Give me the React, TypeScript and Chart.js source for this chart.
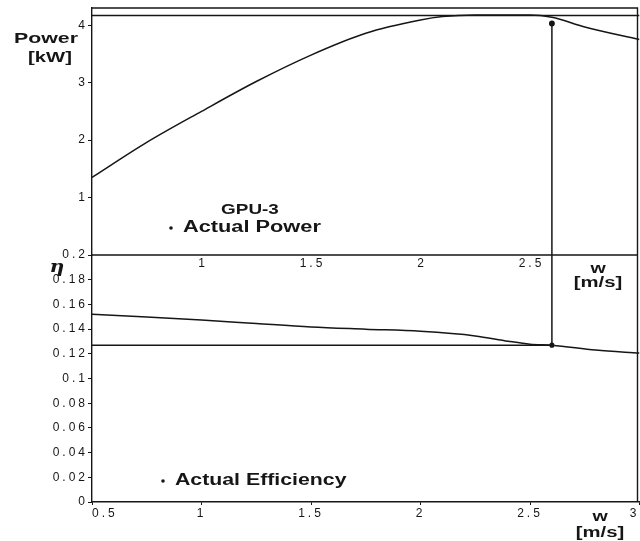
import React, { useEffect, useRef } from "react";
import { Chart, registerables } from "chart.js";

Chart.register(...registerables);

// ---- data ----
const speedW = [0.5, 0.75, 1, 1.25, 1.5, 1.75, 2, 2.1, 2.25, 2.5, 2.6, 2.75, 3];
const powerKW = [1.35, 1.96, 2.5, 3.02, 3.48, 3.86, 4.09, 4.15, 4.18, 4.18, 4.14, 3.97, 3.75];
const effW = [0.5, 0.75, 1, 1.25, 1.5, 1.75, 2, 2.25, 2.4, 2.5, 2.6, 2.8, 3];
const efficiency = [0.152, 0.1497, 0.1474, 0.1445, 0.1417, 0.1399, 0.1382, 0.1345, 0.1302, 0.1278, 0.127, 0.123, 0.1206];
const maxPowerKW = 4.17;
const actualW = 2.6;
const actualPowerKW = 4.03;
const actualEff = 0.127;
const xTicks = [0.5, 1, 1.5, 2, 2.5, 3];
const midXTicks = [1, 1.5, 2, 2.5];
const powerTicks = [1, 2, 3, 4];
const effTicks = [0, 0.02, 0.04, 0.06, 0.08, 0.1, 0.12, 0.14, 0.16, 0.18, 0.2];

const INK = "#161616";
const FONT = "'Liberation Sans', Arial, sans-serif";

function stretchText(
  ctx: CanvasRenderingContext2D,
  text: string,
  x: number,
  y: number,
  size: number,
  sx: number,
  align: CanvasTextAlign = "center",
  font = FONT,
  style = "bold"
) {
  ctx.save();
  ctx.font = `${style} ${size}px ${font}`;
  ctx.fillStyle = INK;
  ctx.textAlign = align;
  ctx.textBaseline = "middle";
  ctx.translate(x, y);
  ctx.scale(sx, 1);
  ctx.fillText(text, 0, 0);
  ctx.restore();
}

const annotPlugin = {
  id: "annot",
  beforeDraw(chart: any) {
    (chart.ctx as any).letterSpacing = "3px";
  },
  afterDraw(chart: any) {
    const { ctx, chartArea, scales } = chart;
    const x = scales.x;
    const yE = scales.yE;
    ctx.save();
    (ctx as any).letterSpacing = "0px";
    ctx.strokeStyle = INK;
    ctx.lineWidth = 1.4;
    const right = Math.min(chartArea.right, 637.5);
    ctx.beginPath();
    ctx.moveTo(chartArea.left, chartArea.top);
    ctx.lineTo(right, chartArea.top);
    ctx.lineTo(right, chartArea.bottom);
    ctx.moveTo(chartArea.left, yE.top);
    ctx.lineTo(right, yE.top);
    ctx.stroke();

    // mid x tick labels (top panel's axis)
    ctx.font = `12px ${FONT}`;
    (ctx as any).letterSpacing = "3px";
    ctx.fillStyle = INK;
    ctx.textAlign = "center";
    ctx.textBaseline = "middle";
    midXTicks.forEach((v) => {
      ctx.fillText(String(v), x.getPixelForValue(v) + 1.5, yE.top + 9);
    });
    (ctx as any).letterSpacing = "0px";

    // axis titles
    stretchText(ctx, "Power", 46, 39, 15, 1.42);
    stretchText(ctx, "[kW]", 50, 58, 15, 1.35);
    stretchText(ctx, "η", 57, yE.top + 13, 17, 1.2, "center", "'DejaVu Serif', serif", "italic bold");
    stretchText(ctx, "w", 598, yE.top + 14, 14, 1.4);
    stretchText(ctx, "[m/s]", 598, yE.top + 28, 14, 1.45);
    stretchText(ctx, "w", 600, chartArea.bottom + 15, 14, 1.4);
    stretchText(ctx, "[m/s]", 600, chartArea.bottom + 31, 14, 1.45);

    // legend-like labels
    stretchText(ctx, "GPU-3", 250, 210, 14, 1.35);
    stretchText(ctx, "Actual Power", 183, 228, 16, 1.36, "left");
    stretchText(ctx, "Actual Efficiency", 175, 481, 16, 1.33, "left");
    ctx.fillStyle = INK;
    ctx.beginPath();
    ctx.arc(171, 228, 1.8, 0, Math.PI * 2);
    ctx.arc(163, 481, 1.8, 0, Math.PI * 2);
    ctx.fill();
    ctx.restore();
  },
};

export default function App() {
  const ref = useRef<HTMLCanvasElement | null>(null);

  useEffect(() => {
    if (!ref.current) return;
    const line = (data: { x: number; y: number }[], yAxisID: string, extra: any = {}) => ({
      type: "line" as const,
      data,
      xAxisID: "x",
      yAxisID,
      borderColor: INK,
      backgroundColor: INK,
      borderWidth: 1.5,
      pointRadius: 0,
      fill: false,
      ...extra,
    });

    const chart = new Chart(ref.current, {
      type: "line",
      data: {
        datasets: [
          line(speedW.map((w, i) => ({ x: w, y: powerKW[i] })), "yP", { cubicInterpolationMode: "monotone" }),
          line([{ x: speedW[0], y: maxPowerKW }, { x: speedW[speedW.length - 1], y: maxPowerKW }], "yP"),
          line([{ x: actualW, y: actualPowerKW }, { x: actualW, y: 0 }], "yP"),
          line([{ x: actualW, y: actualPowerKW }], "yP", { showLine: false, pointRadius: 2.2 }),
          line(effW.map((w, i) => ({ x: w, y: efficiency[i] })), "yE", { cubicInterpolationMode: "monotone" }),
          line([{ x: effW[0], y: actualEff }, { x: actualW, y: actualEff }], "yE"),
          line([{ x: actualW, y: 0.2 }, { x: actualW, y: actualEff }], "yE"),
          line([{ x: actualW, y: actualEff }], "yE", { showLine: false, pointRadius: 1.8 }),
        ],
      },
      options: {
        animation: false,
        responsive: false,
        parsing: false as any,
        layout: { padding: { top: 8, right: 0, left: 0, bottom: 0 } },
        plugins: { legend: { display: false }, tooltip: { enabled: false } },
        scales: {
          x: {
            type: "linear",
            position: "bottom",
            min: 0.5,
            max: 3,
            afterBuildTicks: (s: any) => {
              s.ticks = xTicks.map((v) => ({ value: v }));
            },
            afterFit: (s: any) => {
              s.height = 39;
              s.paddingLeft = 0;
              s.paddingRight = 0;
            },
            ticks: {
              autoSkip: false,
              maxRotation: 0,
              align: "inner",
              padding: 1,
              color: INK,
              font: { size: 12, family: FONT },
              callback: (v: any) => String(v),
            },
            grid: { drawOnChartArea: false, tickLength: 3, color: INK },
            border: { color: INK, width: 1.4 },
          },
          yP: {
            type: "linear",
            position: "left",
            stack: "panels",
            stackWeight: 1,
            weight: 2,
            min: 0,
            max: 4.3,
            afterBuildTicks: (s: any) => {
              s.ticks = powerTicks.map((v) => ({ value: v }));
            },
            afterFit: (s: any) => {
              s.width = 92;
            },
            ticks: {
              autoSkip: false,
              padding: 0,
              color: INK,
              font: { size: 12, family: FONT },
              callback: (v: any) => String(v),
            },
            grid: { drawOnChartArea: false, tickLength: 4, color: INK },
            border: { color: INK, width: 1.4 },
          },
          yE: {
            type: "linear",
            position: "left",
            stack: "panels",
            stackWeight: 1,
            weight: 1,
            min: 0,
            max: 0.2,
            afterBuildTicks: (s: any) => {
              s.ticks = effTicks.map((v) => ({ value: v }));
            },
            afterFit: (s: any) => {
              s.width = 92;
            },
            ticks: {
              autoSkip: false,
              padding: 0,
              color: INK,
              font: { size: 12, family: FONT },
              callback: (v: any) => String(+Number(v).toFixed(2)),
            },
            grid: { drawOnChartArea: false, tickLength: 4, color: INK },
            border: { color: INK, width: 1.4 },
          },
        },
      } as any,
      plugins: [annotPlugin],
    });
    return () => chart.destroy();
  }, []);

  return (
    <div
      style={{
        position: "absolute",
        left: 0,
        top: 0,
        width: 640,
        height: 541,
        overflow: "hidden",
        background: "#fff",
      }}
    >
      <canvas ref={ref} width={645} height={541} style={{ display: "block" }} />
    </div>
  );
}
